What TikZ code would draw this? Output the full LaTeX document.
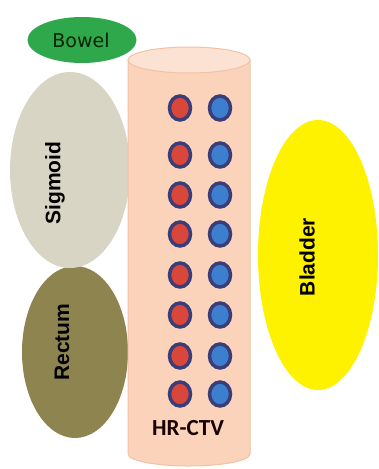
\documentclass[tikz,border=0pt]{standalone}
\usepackage{fontspec}
\setmainfont{Liberation Sans}
\newfontfamily\calfont{Carlito}
\newfontfamily\dvfont{DejaVu Sans}
\usetikzlibrary{shapes.geometric}
\definecolor{bowelgreen}{HTML}{2FA84C}
\definecolor{sigmoidc}{HTML}{D8D5C4}
\definecolor{rectumc}{HTML}{8E8450}
\definecolor{bladderc}{HTML}{FFF200}
\definecolor{cylc}{HTML}{FAD3BA}
\definecolor{cyledge}{HTML}{F1C2A6}
\definecolor{cyltop}{HTML}{FCE2D2}
\definecolor{ringc}{HTML}{3B3D78}
\definecolor{redc}{HTML}{D9473A}
\definecolor{bluec}{HTML}{3D7FCF}
\tikzset{
  organ/.style={ellipse, inner sep=0pt},
  organlabel/.style={font=\bfseries\fontsize{21}{21}\selectfont, text=black, rotate=90},
  seed/.style={ellipse, minimum width=21pt, minimum height=24pt, inner sep=0pt, draw=ringc, line width=3.5pt},
  redseed/.style={seed, fill=redc},
  blueseed/.style={seed, fill=bluec}
}
\begin{document}
\begin{tikzpicture}[x=1pt,y=-1pt]
\useasboundingbox (0,0) rectangle (379,469);
\fill[white] (0,0) rectangle (379,469);
% organs
\node[organ, fill=rectumc, minimum width=106pt, minimum height=172pt] (rectum) at (75,352) {};
\node[organ, fill=sigmoidc, minimum width=120pt, minimum height=196pt] (sigmoid) at (70,170) {};
\node[organ, fill=bowelgreen, minimum width=109pt, minimum height=46pt] (bowel) at (82,40) {};
\node[organ, fill=bladderc, minimum width=120pt, minimum height=270pt] (bladder) at (318,255) {};
\node[font=\dvfont\fontsize{19}{19}\selectfont, text={black!85!green}] (bowellabel) at (81,40) {Bowel};
\node[organlabel] (sigmoidlabel) at (55,183) {Sigmoid};
\node[organlabel] (rectumlabel) at (62,342) {Rectum};
\node[organlabel] (bladderlabel) at (307,257) {Bladder};
% cylinder
\fill[cylc, draw=cyledge, line width=1pt] (128,60) -- (128,454) arc[start angle=180, end angle=0, x radius=61, y radius=12] -- (250,60) -- cycle;
\fill[cyltop, draw=cyledge, line width=1pt] (189,60) ellipse[x radius=61, y radius=13];
\coordinate (cyl) at (189,260);
% seeds
\foreach \y [count=\i] in {108,155,195,234,275,315,356,394} {
  \node[redseed] (r\i) at (180,\y) {};
  \node[blueseed] (b\i) at (220,\y) {};
}
\node[font=\calfont\bfseries\fontsize{23}{23}\selectfont, text={black!90!red}] (hrctv) at (188,428) {HR-CTV};
\end{tikzpicture}
\end{document}
